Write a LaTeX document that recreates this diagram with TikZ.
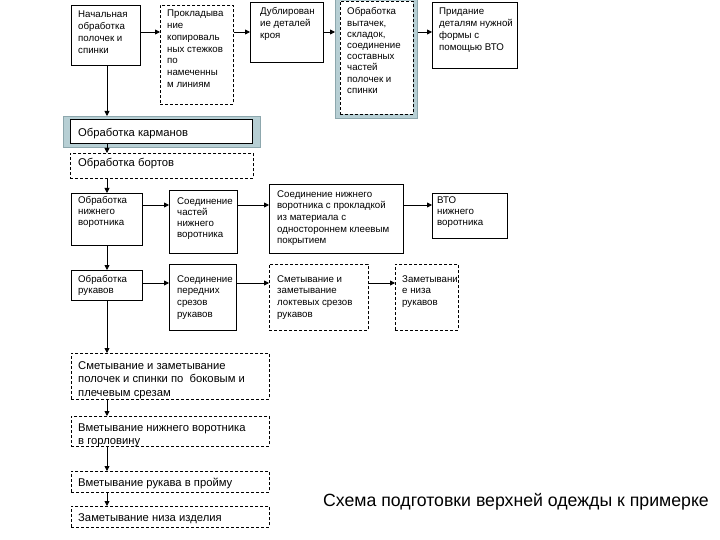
\documentclass[tikz,border=0pt]{standalone}
\usepackage{fontspec}
\setmainfont{Liberation Sans}
\newfontfamily\boxfont{Liberation Sans}
\usetikzlibrary{arrows.meta}
\definecolor{framefill}{HTML}{B7CFD4}
\definecolor{frameline}{HTML}{8DA7AD}
\tikzset{
  solidbox/.style={draw=black, line width=0.8pt, fill=white, inner sep=0pt, anchor=north west},
  dashbox/.style={solidbox, dash pattern=on 3pt off 2pt},
  framebox/.style={draw=frameline, fill=framefill, line width=0.8pt, inner sep=0pt, anchor=north west},
  smalltxt/.style={inner sep=0pt, anchor=base west, font=\boxfont\fontsize{9.7}{11.7}\selectfont},
  tighttxt/.style={smalltxt, font=\boxfont\fontsize{9.7}{10.8}\selectfont},
  bigtxt/.style={inner sep=0pt, anchor=base west, font=\fontsize{11.25}{13.5}\selectfont},
  conn/.style={line width=0.8pt, -{Triangle[length=5pt,width=5pt]}},
}
% style, name, x, y, width, height
\newcommand\mkbox[6]{\node[#1, minimum width=#5pt, minimum height=#6pt] (#2) at (#3,#4) {};}
\begin{document}
\begin{tikzpicture}[x=1pt,y=-1pt]
\useasboundingbox (0,0) rectangle (720,540);
\coordinate (tr) at (107,0);
\coordinate (r1) at (0,32);
\coordinate (r3) at (0,205);
\coordinate (r4) at (0,283);

% Row 1
\mkbox{solidbox}{A}{71}{5}{69}{60}
\node[smalltxt] (At) at (78,18) {\parbox[t]{70pt}{Начальная\\обработка\\полочек и\\спинки}};
\mkbox{dashbox}{B}{160}{5}{73}{99}
\node[smalltxt] (Bt) at (167,17) {\parbox[t]{70pt}{Прокладыва\\ние\\копироваль\\ных стежков\\по\\намеченны\\м линиям}};
\mkbox{solidbox}{C}{250}{2}{73}{60}
\node[smalltxt] (Ct) at (260,15) {\parbox[t]{70pt}{Дублирован\\ие деталей\\кроя}};
\mkbox{framebox}{Df}{335}{-2}{82}{120}
\mkbox{dashbox}{D}{340}{1}{73}{113}
\node[smalltxt, font=\boxfont\fontsize{9.7}{11.2}\selectfont] (Dt) at (347,15) {\parbox[t]{70pt}{Обработка\\вытачек,\\складок,\\соединение\\составных\\частей\\полочек и\\спинки}};
\mkbox{solidbox}{E}{432}{2}{85}{66}
\node[smalltxt] (Et) at (439,15) {\parbox[t]{80pt}{Придание\\деталям нужной\\формы с\\помощью ВТО}};

% Pockets and bortov
\mkbox{framebox}{Pf}{63}{116}{197}{31}
\mkbox{solidbox}{P}{70}{119}{182}{24}
\node[bigtxt] (Pt) at (78,137) {Обработка карманов};
\mkbox{dashbox}{Q}{70}{153}{183}{25}
\node[bigtxt] (Qt) at (78,167) {Обработка бортов};

% Row 3
\mkbox{solidbox}{R1}{71}{193}{71}{52}
\node[tighttxt] (R1t) at (78,204) {\parbox[t]{70pt}{Обработка\\нижнего\\воротника}};
\mkbox{solidbox}{R2}{169}{190}{68}{63}
\node[tighttxt] (R2t) at (177,205) {\parbox[t]{70pt}{Соединение\\частей\\нижнего\\воротника}};
\mkbox{solidbox}{R3}{269}{184}{134}{69}
\node[smalltxt] (R3t) at (277,197) {\parbox[t]{130pt}{Соединение нижнего\\воротника с прокладкой\\из материала с\\одностороннем клеевым\\покрытием}};
\mkbox{solidbox}{R4}{432}{193}{75}{45}
\node[tighttxt] (R4t) at (437,204) {\parbox[t]{70pt}{ВТО\\нижнего\\воротника}};

% Row 4
\mkbox{solidbox}{S1}{71}{270}{71}{30}
\node[smalltxt] (S1t) at (78,282) {\parbox[t]{70pt}{Обработка\\рукавов}};
\mkbox{solidbox}{S2}{169}{264}{67}{66}
\node[smalltxt] (S2t) at (177,282) {\parbox[t]{70pt}{Соединение\\передних\\срезов\\рукавов}};
\mkbox{dashbox}{S3}{269}{264}{99}{66}
\node[smalltxt] (S3t) at (277,282) {\parbox[t]{100pt}{Сметывание и\\заметывание\\локтевых срезов\\рукавов}};
\mkbox{dashbox}{S4}{395}{264}{63}{66}
\node[smalltxt] (S4t) at (402,282) {\parbox[t]{70pt}{Заметывани\\е низа\\рукавов}};

% Bottom boxes
\mkbox{dashbox}{T1}{71}{353}{198}{46}
\node[bigtxt] (T1t) at (78,369) {\parbox[t]{200pt}{Сметывание и заметывание\\полочек и спинки по\ \ боковым и\\плечевым срезам}};
\mkbox{dashbox}{T2}{71}{416}{198}{30}
\node[bigtxt] (T2t) at (78,431) {\parbox[t]{200pt}{Вметывание нижнего воротника\\в горловину}};
\mkbox{dashbox}{T3}{71}{471}{198}{21}
\node[bigtxt] (T3t) at (78,486) {Вметывание рукава в пройму};
\mkbox{dashbox}{T4}{71}{506}{198}{21}
\node[bigtxt] (T4t) at (78,521) {Заметывание низа изделия};

% Title
\node[inner sep=0pt, anchor=base west, font=\fontsize{17.7}{21}\selectfont] (title) at (323,506) {Схема подготовки верхней одежды к примерке};

% Horizontal connectors
\draw[conn] (A.east |- r1) -- (B.west |- r1);
\draw[conn] (B.east |- r1) -- (C.west |- r1);
\draw[conn] (C.east |- r1) -- (Df.west |- r1);
\draw[conn] (Df.east |- r1) -- (E.west |- r1);
\draw[conn] (R1.east |- r3) -- (R2.west |- r3);
\draw[conn] (R2.east |- r3) -- (R3.west |- r3);
\draw[conn] (R3.east |- r3) -- (R4.west |- r3);
\draw[conn] (S1.east |- r4) -- (S2.west |- r4);
\draw[conn] (S2.east |- r4) -- (S3.west |- r4);
\draw[conn] (S3.east |- r4) -- (S4.west |- r4);

% Vertical trunk
\draw[conn] (tr |- A.south) -- (tr |- Pf.north);
\draw[conn] (tr |- P.south) -- (tr |- Q.north);
\draw[conn] (tr |- Q.south) -- (tr |- R1.north);
\draw[conn] (tr |- R1.south) -- (tr |- S1.north);
\draw[conn] (tr |- S1.south) -- (tr |- T1.north);
\draw[conn] (tr |- T1.south) -- (tr |- T2.north);
\draw[conn] (tr |- T2.south) -- (tr |- T3.north);
\draw[conn] (tr |- T3.south) -- (tr |- T4.north);
\end{tikzpicture}
\end{document}
